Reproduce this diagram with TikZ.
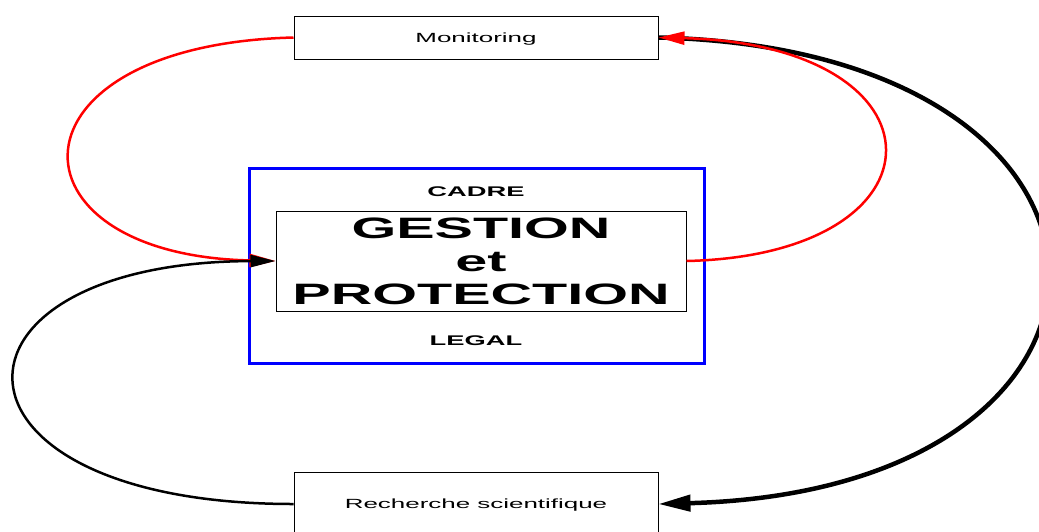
\documentclass[tikz,border=0pt]{standalone}
\usepackage{fontspec}
\setmainfont{Liberation Sans}
\usepackage{graphicx}
\usetikzlibrary{arrows.meta}
\newcommand{\stretchtxt}[1]{\scalebox{1.95}[1]{#1}}
\begin{document}
\begin{tikzpicture}[x=1pt,y=-1pt,
  box/.style={draw=black, line width=1pt, rectangle, inner sep=0pt, text depth=0pt},
  frame/.style={draw=blue, line width=3pt, rectangle, inner sep=0pt},
  small/.style={font=\fontsize{13.3}{16}\selectfont},
  label/.style={anchor=base, inner sep=0pt, font=\fontsize{14}{16}\selectfont\bfseries},
  redline/.style={draw=red, line width=2.5pt, -{Triangle[length=26pt,width=13pt]}},
  thinblack/.style={draw=black, line width=2.5pt, -{Triangle[length=25pt,width=12pt]}},
  thickblack/.style={draw=black, line width=4.5pt, -{Triangle[length=32pt,width=16pt]}}
]
\useasboundingbox (0,0) rectangle (1039,531);
\clip (0,0) rectangle (1039,531);

\node[box, small, minimum width=364pt, minimum height=43pt] (mon) at (476,37.5) {\stretchtxt{Monitoring}};
\node[box, small, minimum width=364pt, minimum height=64pt] (rech) at (476,504) {\stretchtxt{Recherche scientifique}};
\node[frame, minimum width=455pt, minimum height=195pt] (cadre) at (476.5,265.5) {};
\node[label] (cadretxt) at (476,196) {\stretchtxt{CADRE}};
\node[label] (legaltxt) at (476,345) {\stretchtxt{LEGAL}};
\node[box, minimum width=410pt, minimum height=100pt, align=center,
      font=\fontsize{29.5}{33}\selectfont\bfseries] (gp) at (481,261)
      {\stretchtxt{GESTION}\\\stretchtxt{et}\\\stretchtxt{PROTECTION}};

\draw[thickblack] (mon.east) .. controls (1174,50) and (1174,490) .. (rech.east);
\draw[redline] (gp.east) .. controls (953,255) and (953,45) .. (mon.east);
\draw[redline] (mon.west) .. controls (0,45) and (0,255) .. (gp.west);
\draw[thinblack] (rech.west) .. controls (-74,504) and (-74,262) .. (gp.west);
\end{tikzpicture}
\end{document}
